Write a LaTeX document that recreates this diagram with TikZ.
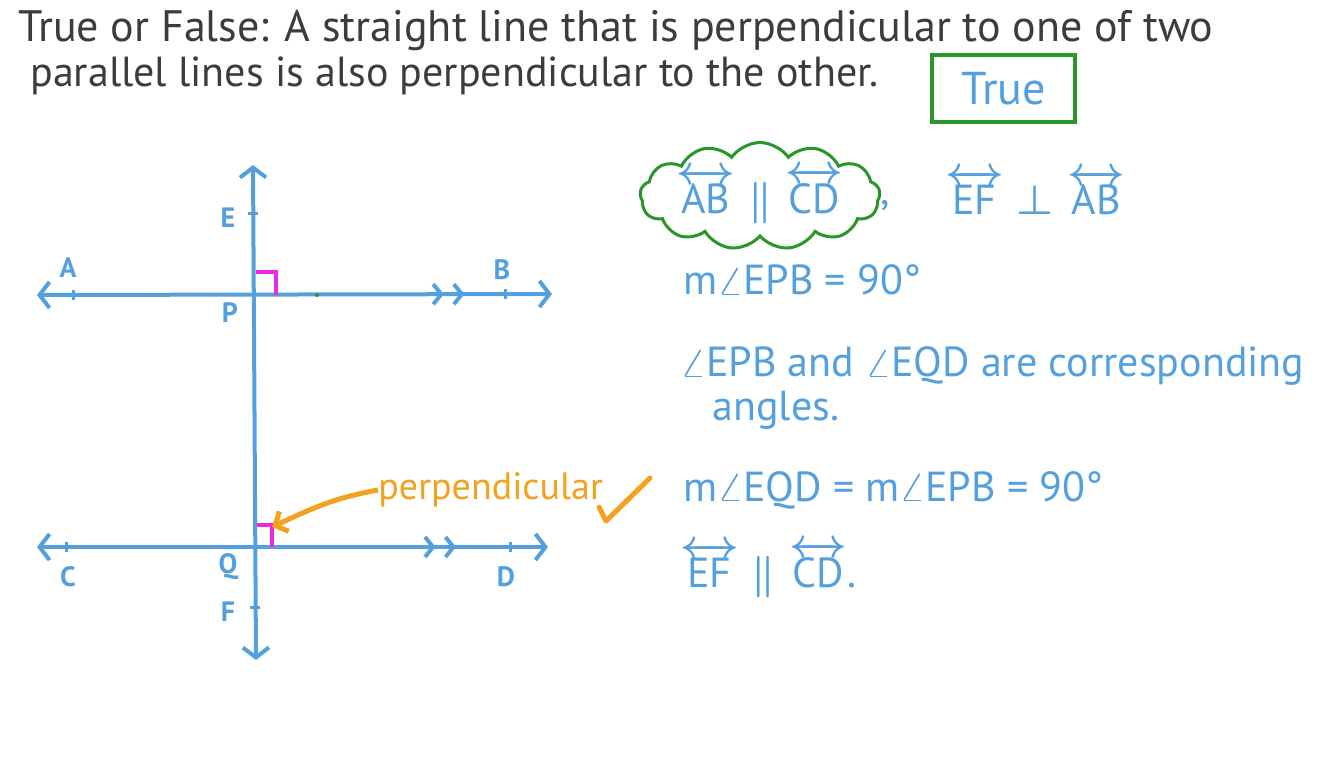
\documentclass[tikz,border=0pt]{standalone}
\usepackage{amsmath}
\usepackage{fontspec}
\setmainfont{PT Sans}
\usetikzlibrary{arrows.meta,shapes.symbols,decorations.markings,positioning}

\definecolor{penblue}{RGB}{84,160,222}
\definecolor{penpink}{RGB}{236,40,228}
\definecolor{penorange}{RGB}{242,162,30}
\definecolor{pengreen}{RGB}{40,150,40}
\definecolor{pengray}{RGB}{60,60,60}

\tikzset{
  chevtip/.tip={Straight Barb[length=4pt,width=10pt,line width=2pt]},
  endtip/.tip={Straight Barb[length=5pt,width=13pt,line width=2pt]},
  line/.style={penblue, line width=2pt, line cap=round},
  ray/.style={line, endtip-endtip},
  chev/.style 2 args={postaction={decorate, decoration={markings,
      mark=at position #1 with {\arrow{chevtip}},
      mark=at position #2 with {\arrow{chevtip}}}}},
  tick/.style={penblue, line width=1.5pt},
  rmark/.style={penpink, line width=2pt},
  ptlabel/.style={text=penblue, font=\fontsize{14}{16}\selectfont\bfseries, inner sep=0pt},
  note/.style={text=penblue, font=\fontsize{21}{25}\selectfont\boldmath, anchor=west, inner sep=0pt},
  question/.style={text=pengray, font=\fontsize{22}{26}\selectfont, anchor=west, inner sep=0pt}
}

\begin{document}
\begin{tikzpicture}[x=0.5pt,y=-0.5pt]
\useasboundingbox (0,0) rectangle (1344,756);
\fill[white] (0,0) rectangle (1344,756);

% question
\node[question] (q1) at (18,31) {True or False: A straight line that is perpendicular to one of two};
\node[question, font=\fontsize{21}{25}\selectfont] (q2) at (30,76) {parallel lines is also perpendicular to the other.};
\node[draw=pengreen, line width=2pt, minimum width=71.5pt, minimum height=33.5pt,
  text=penblue, font=\fontsize{23}{26}\selectfont] (answer) at (1003.5,88.5) {True};

% points on the lines
\coordinate (P) at (253,295);
\coordinate (Q) at (254,547);
\coordinate (Etop) at (253,165);
\coordinate (Fbot) at (256,660);
\coordinate (Aend) at (37,295);
\coordinate (Bend) at (552,294);
\coordinate (Cend) at (37,547);
\coordinate (Dend) at (548,547);
\coordinate (A) at (73,295);
\coordinate (B) at (505,294);
\coordinate (C) at (66,547);
\coordinate (D) at (510,547);
\coordinate (E) at (253,213);
\coordinate (F) at (255,607);

% lines
\draw[ray] (Fbot) -- (Etop);
\draw[ray, chev={0.79}{0.83}] (Aend) -- (Bend);
\draw[ray, chev={0.78}{0.82}] (Cend) -- (Dend);
\foreach \pt in {A,B,C,D}
  \draw[tick] (\pt) ++(0,-5) -- ++(0,10);
\foreach \pt in {E,F}
  \draw[tick] (\pt) ++(-5,0) -- ++(10,0);
\fill[pengreen] (317,295) circle (2);

% right angles
\draw[rmark] ([shift={(3,-23)}]P) -| ([shift={(23,0)}]P);
\draw[rmark] ([shift={(3,-22)}]Q) -| ([shift={(18,0)}]Q);

% labels
\node[ptlabel] (lA) at (68,268) {A};
\node[ptlabel] (lB) at (502,270) {B};
\node[ptlabel] (lE) at (228,218) {E};
\node[ptlabel] (lP) at (230,313) {P};
\node[ptlabel] (lC) at (68,577) {C};
\node[ptlabel] (lQ) at (228,567) {Q};
\node[ptlabel] (lD) at (506,577) {D};
\node[ptlabel] (lF) at (228,612) {F};

% perpendicular callout
\node[text=penorange, font=\fontsize{19}{23}\selectfont, anchor=west, inner sep=0pt] (perp) at (378,490) {perpendicular};
\draw[penorange, line width=2.5pt, -{Straight Barb[length=5pt,width=11pt]}]
  (perp.west) to[out=190, in=25] ([shift={(18,-20)}]Q);
\draw[penorange, line width=2.5pt, line cap=round, line join=round]
  (599,507) -- (606,521) -- (650,478);

% reasoning
\node[cloud, draw=pengreen, line width=1.5pt, cloud puffs=13, cloud puff arc=110,
  cloud ignores aspect, minimum width=120pt, minimum height=45pt,
  note, anchor=center] (given) at (760,196)
  {$\overleftrightarrow{\text{AB}}\parallel\overleftrightarrow{\text{CD}}$};
\node[note] (comma) at (880,206) {,};
\node[note] (perpAB) at (945,192) {$\overleftrightarrow{\text{EF}}\perp\overleftrightarrow{\text{AB}}$};
\node[note] (s1) at (683,280) {m$\angle$EPB = 90°};
\node[note] (s2) at (680,366) {$\angle$EPB and $\angle$EQD are corresponding};
\node[note] (s3) at (712,410) {angles.};
\node[note] (s4) at (683,490) {m$\angle$EQD = m$\angle$EPB = 90°};
\node[note] (s5) at (680,570) {$\overleftrightarrow{\text{EF}}\parallel\overleftrightarrow{\text{CD}}$.};
\end{tikzpicture}
\end{document}
